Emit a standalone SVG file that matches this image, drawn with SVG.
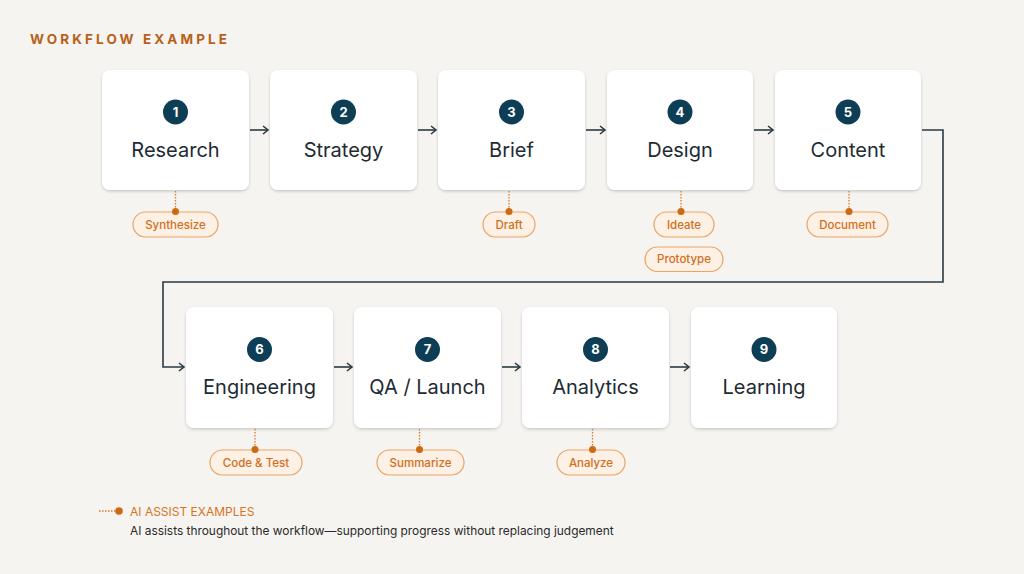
<svg xmlns="http://www.w3.org/2000/svg" width="1024" height="574" viewBox="0 0 1024 574">
<style>
.bg{fill:#F6F4F0}
.box{fill:#FFFFFF}
.num{fill:#0E3D56}
.numt{font-family:Inter,"Liberation Sans",sans-serif;font-size:13px;font-weight:700;fill:#FFFFFF;text-anchor:middle}
.lbl{font-family:Inter,"Liberation Sans",sans-serif;font-size:20px;fill:#1E2B33;text-anchor:middle}
.pill{fill:#FDF0E4;stroke:#E9A466;stroke-width:1.2}
.pt{font-family:Inter,"Liberation Sans",sans-serif;font-size:11.5px;font-weight:500;fill:#CF6F1D;text-anchor:middle}
.dot{fill:#CC6A12}
.dl{stroke:#D9782A;stroke-width:1.3;stroke-dasharray:1.5 1.5;fill:none}
.conn{stroke:#2A3A42;stroke-width:1.6;fill:none}
.title{font-family:Inter,"Liberation Sans",sans-serif;font-size:13.5px;font-weight:700;fill:#B8611A;letter-spacing:3.1px}
.leg1{font-family:Inter,"Liberation Sans",sans-serif;font-size:12px;fill:#D9731E}
.leg2{font-family:Inter,"Liberation Sans",sans-serif;font-size:11.9px;fill:#2A2A2A}
</style>
<defs>
<filter id="sh" x="-10%" y="-10%" width="120%" height="130%">
<feDropShadow dx="0" dy="1.5" stdDeviation="1.5" flood-color="#000" flood-opacity="0.18"/>
</filter>
<marker id="ah" markerWidth="10" markerHeight="10" refX="8" refY="5" orient="auto" markerUnits="userSpaceOnUse">
<path d="M3,1 L8,5 L3,9" fill="none" stroke="#2A3A42" stroke-width="1.6"/>
</marker>
</defs>
<rect class="bg" x="0" y="0" width="1024" height="574"/>
<text class="title" x="30" y="44">WORKFLOW EXAMPLE</text>

<g id="connectors">
<line class="conn" x1="250" y1="130" x2="268" y2="130" marker-end="url(#ah)"/>
<line class="conn" x1="418" y1="130" x2="436" y2="130" marker-end="url(#ah)"/>
<line class="conn" x1="586" y1="130" x2="605" y2="130" marker-end="url(#ah)"/>
<line class="conn" x1="754" y1="130" x2="773" y2="130" marker-end="url(#ah)"/>
<path class="conn" d="M922,130 H943 V282 H163 V367 H184" marker-end="url(#ah)"/>
<line class="conn" x1="334" y1="367" x2="352" y2="367" marker-end="url(#ah)"/>
<line class="conn" x1="502" y1="367" x2="520" y2="367" marker-end="url(#ah)"/>
<line class="conn" x1="670" y1="367" x2="689" y2="367" marker-end="url(#ah)"/>
</g>

<g id="node1">
<rect class="box" x="102" y="70" width="147" height="120" rx="8" filter="url(#sh)"/>
<circle class="num" cx="175.5" cy="112" r="12.5"/><text class="numt" x="175.5" y="116.5">1</text>
<text class="lbl" x="175.5" y="157">Research</text>
</g>
<g id="node2">
<rect class="box" x="270" y="70" width="147" height="120" rx="8" filter="url(#sh)"/>
<circle class="num" cx="343.5" cy="112" r="12.5"/><text class="numt" x="343.5" y="116.5">2</text>
<text class="lbl" x="343.5" y="157">Strategy</text>
</g>
<g id="node3">
<rect class="box" x="438" y="70" width="147" height="120" rx="8" filter="url(#sh)"/>
<circle class="num" cx="511.5" cy="112" r="12.5"/><text class="numt" x="511.5" y="116.5">3</text>
<text class="lbl" x="511.5" y="157">Brief</text>
</g>
<g id="node4">
<rect class="box" x="607" y="70" width="146" height="120" rx="8" filter="url(#sh)"/>
<circle class="num" cx="680" cy="112" r="12.5"/><text class="numt" x="680" y="116.5">4</text>
<text class="lbl" x="680" y="157">Design</text>
</g>
<g id="node5">
<rect class="box" x="775" y="70" width="146" height="120" rx="8" filter="url(#sh)"/>
<circle class="num" cx="848" cy="112" r="12.5"/><text class="numt" x="848" y="116.5">5</text>
<text class="lbl" x="848" y="157">Content</text>
</g>
<g id="node6">
<rect class="box" x="186" y="307" width="147" height="121" rx="8" filter="url(#sh)"/>
<circle class="num" cx="259.5" cy="349.5" r="12.5"/><text class="numt" x="259.5" y="354">6</text>
<text class="lbl" x="259.5" y="394">Engineering</text>
</g>
<g id="node7">
<rect class="box" x="354" y="307" width="147" height="121" rx="8" filter="url(#sh)"/>
<circle class="num" cx="427.5" cy="349.5" r="12.5"/><text class="numt" x="427.5" y="354">7</text>
<text class="lbl" x="427.5" y="394">QA / Launch</text>
</g>
<g id="node8">
<rect class="box" x="522" y="307" width="147" height="121" rx="8" filter="url(#sh)"/>
<circle class="num" cx="595.5" cy="349.5" r="12.5"/><text class="numt" x="595.5" y="354">8</text>
<text class="lbl" x="595.5" y="394">Analytics</text>
</g>
<g id="node9">
<rect class="box" x="691" y="307" width="146" height="121" rx="8" filter="url(#sh)"/>
<circle class="num" cx="764" cy="349.5" r="12.5"/><text class="numt" x="764" y="354">9</text>
<text class="lbl" x="764" y="394">Learning</text>
</g>

<g id="assist-synthesize">
<line class="dl" x1="175.5" y1="191" x2="175.5" y2="210"/>
<rect class="pill" x="133" y="212" width="85" height="25" rx="12.5"/>
<circle class="dot" cx="175.5" cy="211.5" r="3.5"/>
<text class="pt" x="175.5" y="228.5">Synthesize</text>
</g>
<g id="assist-draft">
<line class="dl" x1="509" y1="191" x2="509" y2="210"/>
<rect class="pill" x="483" y="212" width="52" height="25" rx="12.5"/>
<circle class="dot" cx="509" cy="211.5" r="3.5"/>
<text class="pt" x="509" y="228.5">Draft</text>
</g>
<g id="assist-ideate">
<line class="dl" x1="681" y1="191" x2="681" y2="210"/>
<rect class="pill" x="654" y="212" width="60" height="25" rx="12.5"/>
<circle class="dot" cx="681" cy="211.5" r="3.5"/>
<text class="pt" x="684" y="228.5">Ideate</text>
</g>
<g id="assist-prototype">
<rect class="pill" x="645" y="247" width="78" height="24.5" rx="12.25"/>
<text class="pt" x="684" y="263">Prototype</text>
</g>
<g id="assist-document">
<line class="dl" x1="849" y1="191" x2="849" y2="210"/>
<rect class="pill" x="807" y="212" width="81" height="25" rx="12.5"/>
<circle class="dot" cx="849" cy="211.5" r="3.5"/>
<text class="pt" x="847.5" y="228.5">Document</text>
</g>
<g id="assist-codetest">
<line class="dl" x1="255" y1="429" x2="255" y2="448"/>
<rect class="pill" x="210" y="450" width="92" height="25" rx="12.5"/>
<circle class="dot" cx="255" cy="449.5" r="3.5"/>
<text class="pt" x="256" y="466.5">Code &amp; Test</text>
</g>
<g id="assist-summarize">
<line class="dl" x1="419.5" y1="429" x2="419.5" y2="448"/>
<rect class="pill" x="377" y="450" width="87" height="25" rx="12.5"/>
<circle class="dot" cx="419.5" cy="449.5" r="3.5"/>
<text class="pt" x="420.5" y="466.5">Summarize</text>
</g>
<g id="assist-analyze">
<line class="dl" x1="592.5" y1="429" x2="592.5" y2="448"/>
<rect class="pill" x="557" y="450" width="68" height="25" rx="12.5"/>
<circle class="dot" cx="592.5" cy="449.5" r="3.5"/>
<text class="pt" x="591" y="466.5">Analyze</text>
</g>

<g id="legend">
<line class="dl" x1="99" y1="511" x2="115" y2="511"/>
<circle class="dot" cx="119" cy="511" r="3.8"/>
<text class="leg1" x="130" y="515.5">AI ASSIST EXAMPLES</text>
<text class="leg2" x="130" y="535">AI assists throughout the workflow—supporting progress without replacing judgement</text>
</g>
</svg>
